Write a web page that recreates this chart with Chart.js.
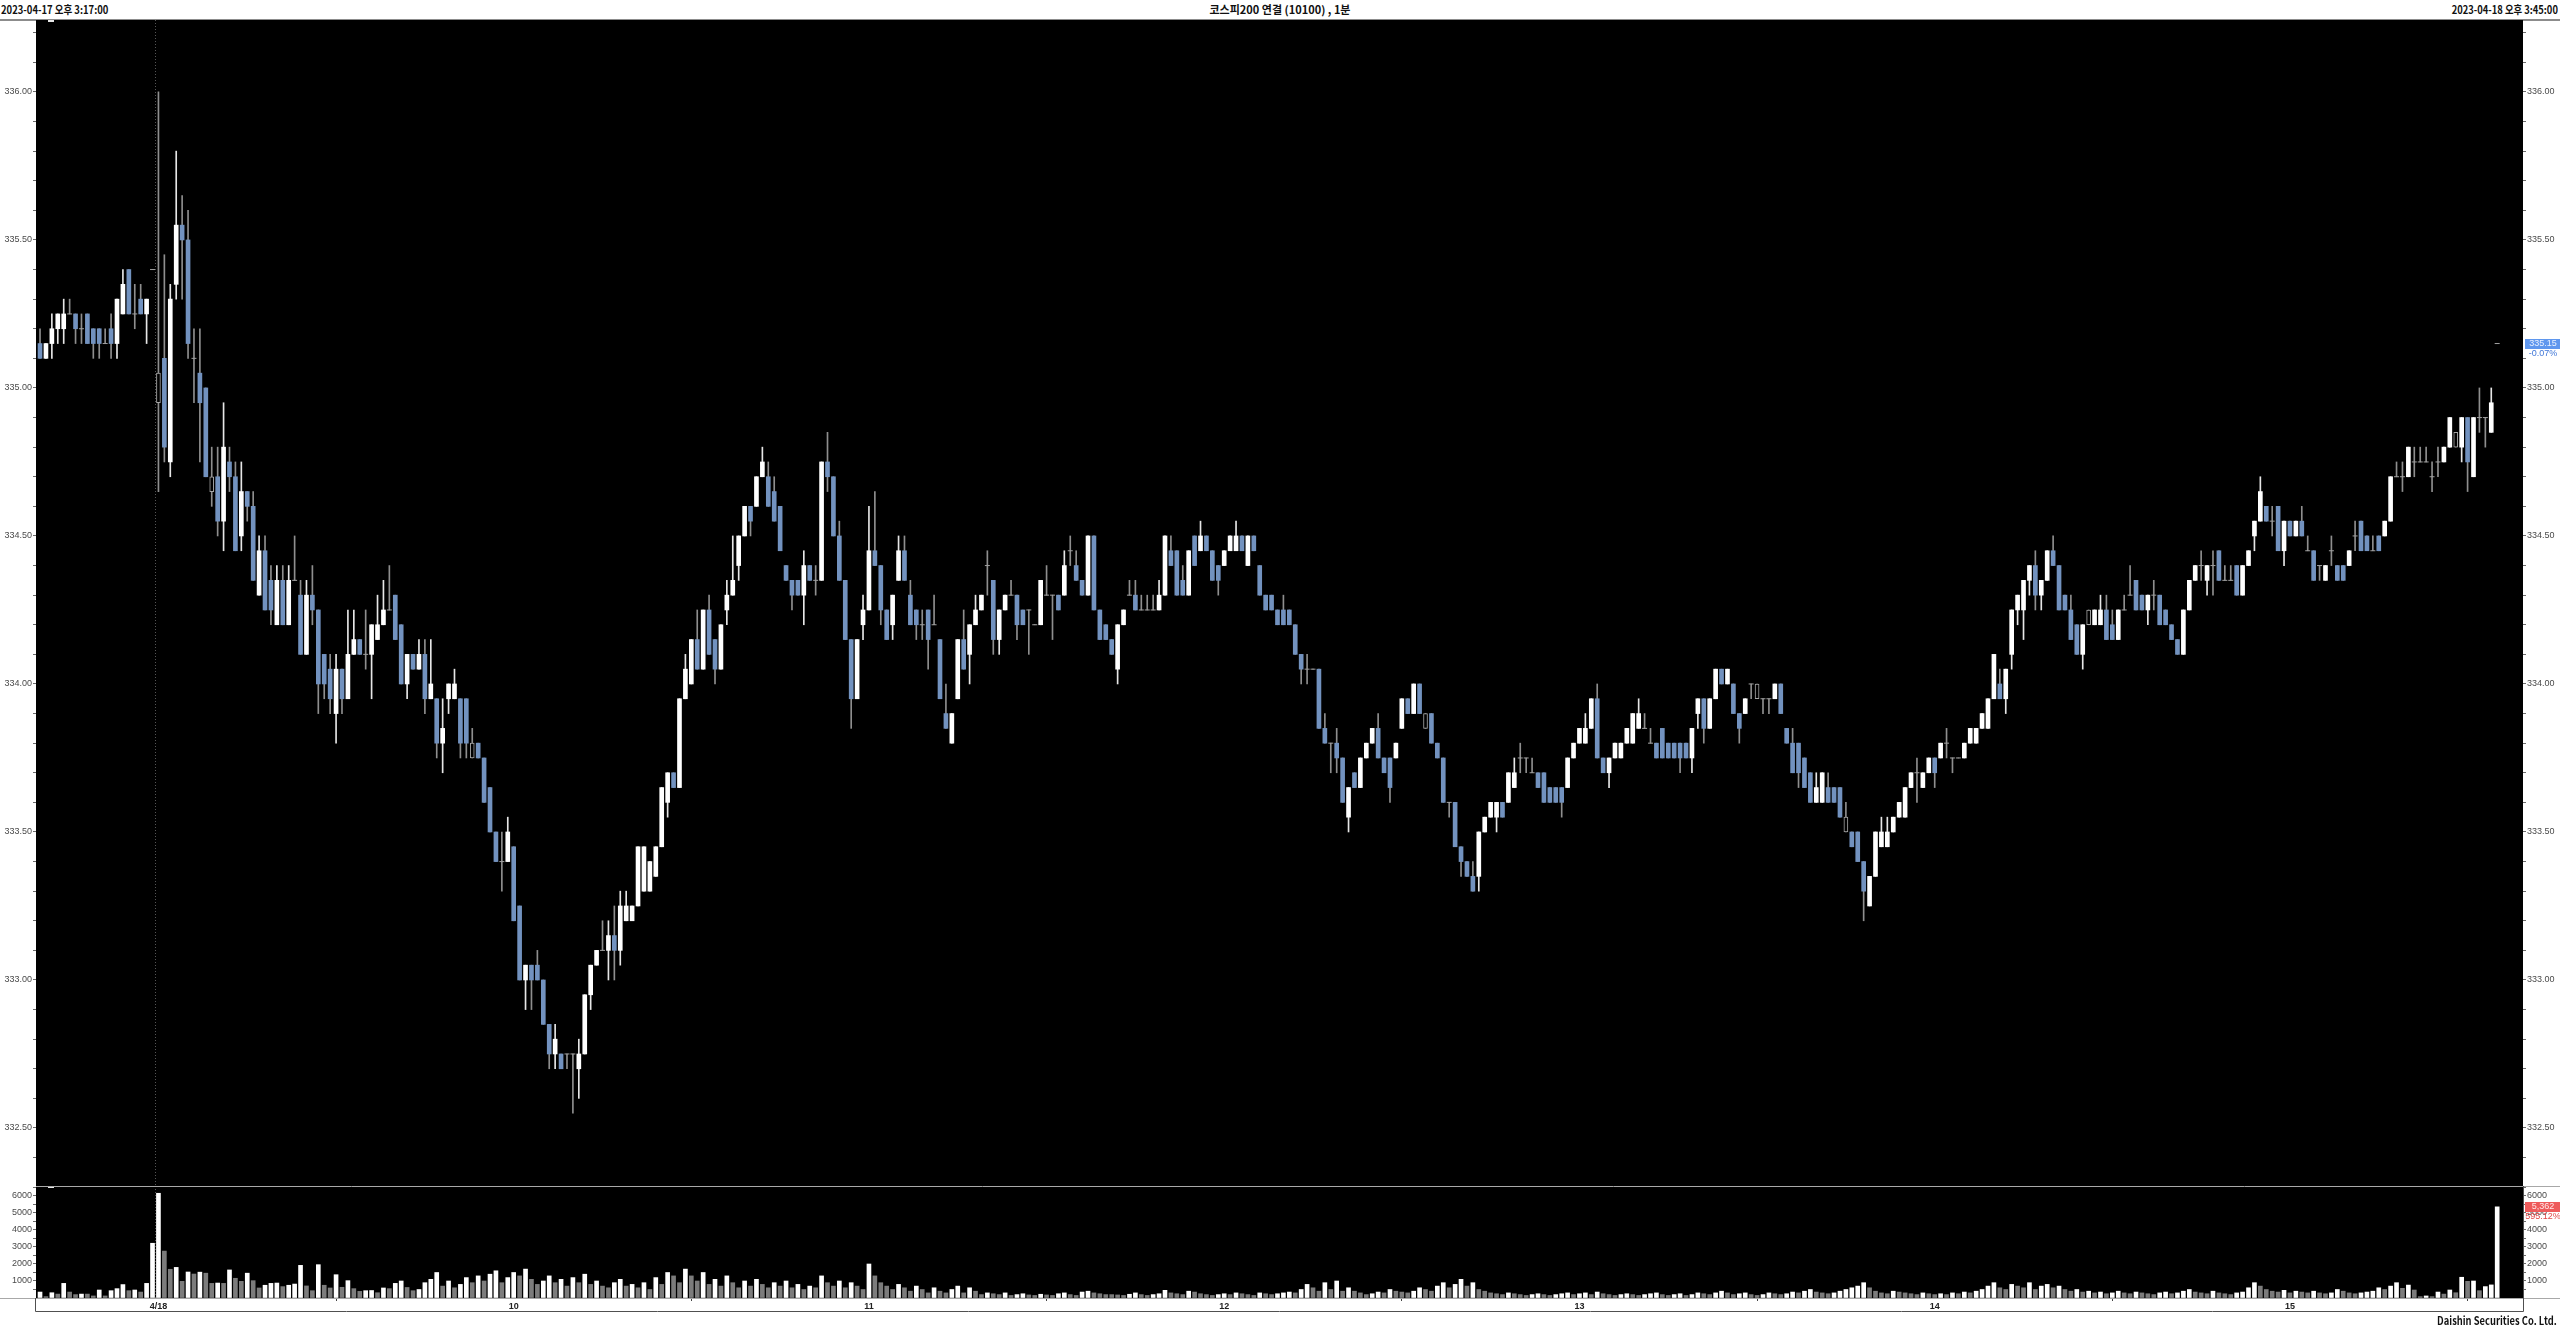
<!DOCTYPE html>
<html>
<head>
<meta charset="utf-8">
<script src="https://cdn.jsdelivr.net/npm/chart.js@4.4.0/dist/chart.umd.min.js"></script>
<style>
  html, body { margin: 0; padding: 0; background: #fff; }
  body { width: 2560px; height: 1328px; position: relative; overflow: hidden;
         font-family: "Noto Sans CJK KR", "DejaVu Sans", sans-serif; }
  .hdr { position: absolute; font-size: 11px; font-weight: bold; color: #111; line-height: 14px; white-space: nowrap; }
  .narrowL { transform: scaleX(0.86); transform-origin: left center; }
  .narrowR { transform: scaleX(0.85); transform-origin: right center; }
  .topline { position: absolute; left: 0; top: 19px; width: 2560px; height: 2px; background: #8c8c8c; }
  #priceCanvas { position: absolute; left: 0; top: 0; }
  #volCanvas { position: absolute; left: 0; top: 1186px; }
</style>
</head>
<body>
<div class="hdr narrowL" id="hLeft" style="left:1px; top:2px"></div>
<div class="hdr" id="hTitle" style="left:0; top:2px; width:2560px; text-align:center"></div>
<div class="hdr narrowR" id="hRight" style="right:2px; top:2px"></div>
<div class="topline"></div>
<canvas id="priceCanvas" width="2560" height="1186"></canvas>
<canvas id="volCanvas" width="2560" height="142"></canvas>
<div class="hdr narrowR" id="credit" style="right:3px; top:1313px"></div>
<script>
// 1-minute bars, KOSPI200 continuous futures: 4/17 tail (0-19) then 4/18 (20-415)
const opens = [
  335.15,335.10,335.15,335.20,335.20,335.25,335.25,335.20,335.25,335.20,
  335.20,335.15,335.20,335.15,335.25,335.40,335.25,335.30,335.25,335.40,
  334.95,335.10,334.75,335.35,335.55,335.50,335.10,335.05,335.00,334.65,
  334.70,334.55,334.75,334.70,334.50,334.65,334.60,334.30,334.45,334.35,
  334.20,334.35,334.20,334.35,334.30,334.10,334.30,334.25,334.10,334.05,
  333.90,334.05,333.95,334.10,334.15,334.10,334.10,334.15,334.20,334.25,
  334.30,334.20,334.00,334.10,334.05,334.10,333.95,333.95,333.80,333.95,
  333.95,333.95,333.95,333.75,333.80,333.75,333.65,333.50,333.40,333.40,
  333.45,333.25,333.00,333.05,333.05,333.00,332.85,332.75,332.75,332.75,
  332.75,332.70,332.75,332.95,333.05,333.10,333.10,333.15,333.10,333.20,
  333.20,333.25,333.30,333.30,333.35,333.45,333.60,333.70,333.65,333.95,
  334.00,334.15,334.05,334.25,334.15,334.05,334.25,334.30,334.40,334.50,
  334.60,334.60,334.70,334.70,334.65,334.60,334.40,334.35,334.35,334.30,
  334.40,334.35,334.35,334.75,334.70,334.50,334.35,334.15,333.95,334.20,
  334.25,334.45,334.40,334.25,334.20,334.35,334.45,334.30,334.25,334.20,
  334.25,334.20,334.15,333.90,333.80,333.95,334.15,334.10,334.20,334.25,
  334.40,334.35,334.15,334.25,334.30,334.30,334.25,334.25,334.20,334.20,
  334.30,334.30,334.30,334.30,334.45,334.40,334.35,334.30,334.50,334.25,
  334.20,334.15,334.05,334.20,334.30,334.30,334.25,334.25,334.25,334.25,
  334.30,334.45,334.45,334.35,334.30,334.50,334.45,334.50,334.45,334.40,
  334.40,334.45,334.45,334.50,334.40,334.50,334.40,334.30,334.30,334.25,
  334.25,334.25,334.20,334.10,334.05,334.05,334.05,333.85,333.80,333.80,
  333.75,333.55,333.70,333.65,333.75,333.80,333.85,333.75,333.75,333.75,
  333.85,333.95,333.90,334.00,333.85,333.90,333.80,333.75,333.60,333.60,
  333.45,333.40,333.35,333.35,333.50,333.55,333.55,333.60,333.60,333.65,
  333.75,333.75,333.70,333.70,333.70,333.65,333.65,333.65,333.65,333.75,
  333.80,333.80,333.85,333.95,333.75,333.70,333.75,333.75,333.80,333.80,
  333.85,333.85,333.80,333.80,333.85,333.80,333.80,333.80,333.80,333.75,
  333.90,333.95,333.85,333.95,334.05,334.00,334.00,333.90,333.90,334.00,
  333.95,333.95,333.95,333.95,334.00,333.85,333.80,333.80,333.75,333.70,
  333.60,333.60,333.65,333.65,333.65,333.50,333.50,333.50,333.40,333.25,
  333.35,333.45,333.45,333.50,333.55,333.55,333.65,333.70,333.65,333.70,
  333.75,333.75,333.80,333.75,333.75,333.75,333.80,333.80,333.85,333.85,
  333.95,334.00,333.95,334.10,334.25,334.25,334.35,334.40,334.30,334.35,
  334.45,334.40,334.30,334.25,334.20,334.10,334.20,334.20,334.20,334.25,
  334.20,334.15,334.25,334.30,334.35,334.30,334.25,334.30,334.30,334.25,
  334.20,334.15,334.10,334.25,334.35,334.40,334.35,334.40,334.45,334.35,
  334.35,334.40,334.30,334.40,334.50,334.55,334.60,334.55,334.60,334.45,
  334.55,334.50,334.55,334.45,334.45,334.40,334.35,334.45,334.40,334.40,
  334.40,334.50,334.55,334.50,334.45,334.50,334.50,334.55,334.70,334.70,
  334.70,334.75,334.75,334.75,334.70,334.75,334.75,334.80,334.80,334.80,
  334.90,334.70,334.90,334.90,334.85,335.15
];
const highs = [
  335.20,335.15,335.25,335.25,335.30,335.30,335.25,335.25,335.25,335.20,
  335.20,335.20,335.25,335.30,335.40,335.40,335.35,335.35,335.30,335.40,
  336.00,335.45,335.35,335.80,335.65,335.60,335.20,335.20,335.00,334.80,
  334.80,334.95,334.80,334.75,334.75,334.65,334.65,334.50,334.50,334.40,
  334.40,334.40,334.40,334.50,334.35,334.35,334.40,334.25,334.10,334.10,
  334.10,334.05,334.25,334.25,334.15,334.25,334.20,334.30,334.35,334.40,
  334.30,334.20,334.10,334.10,334.15,334.15,334.15,333.95,333.95,334.00,
  334.05,333.95,333.95,333.85,333.80,333.75,333.65,333.50,333.50,333.55,
  333.45,333.25,333.05,333.05,333.10,333.00,332.85,332.85,332.75,332.75,
  332.75,332.80,332.95,333.05,333.10,333.20,333.20,333.25,333.30,333.30,
  333.25,333.45,333.45,333.40,333.45,333.65,333.70,333.70,333.95,334.10,
  334.15,334.25,334.25,334.30,334.15,334.20,334.35,334.50,334.50,334.60,
  334.60,334.70,334.80,334.75,334.70,334.60,334.40,334.35,334.35,334.45,
  334.40,334.40,334.75,334.85,334.70,334.55,334.35,334.15,334.15,334.30,
  334.60,334.65,334.40,334.25,334.30,334.50,334.50,334.35,334.25,334.25,
  334.25,334.30,334.15,334.00,333.90,334.15,334.25,334.20,334.30,334.30,
  334.45,334.35,334.25,334.30,334.35,334.30,334.25,334.25,334.20,334.35,
  334.40,334.30,334.30,334.45,334.50,334.45,334.35,334.50,334.50,334.25,
  334.20,334.15,334.20,334.25,334.35,334.35,334.30,334.30,334.30,334.35,
  334.50,334.50,334.45,334.40,334.45,334.50,334.55,334.50,334.45,334.40,
  334.45,334.50,334.55,334.50,334.50,334.50,334.40,334.30,334.30,334.25,
  334.30,334.25,334.20,334.10,334.10,334.05,334.05,333.90,333.80,333.85,
  333.75,333.65,333.70,333.75,333.80,333.85,333.90,333.75,333.75,333.80,
  333.95,333.95,334.00,334.00,333.90,333.90,333.80,333.75,333.60,333.60,
  333.45,333.40,333.40,333.50,333.55,333.60,333.60,333.60,333.70,333.75,
  333.80,333.75,333.75,333.70,333.70,333.65,333.65,333.65,333.75,333.80,
  333.85,333.90,333.95,334.00,333.75,333.75,333.80,333.80,333.85,333.90,
  333.95,333.90,333.85,333.80,333.85,333.80,333.80,333.80,333.80,333.85,
  333.95,333.95,333.95,334.05,334.05,334.05,334.00,333.90,333.95,334.00,
  334.00,333.95,333.95,334.00,334.00,333.85,333.85,333.80,333.75,333.70,
  333.70,333.70,333.70,333.65,333.65,333.60,333.50,333.50,333.40,333.35,
  333.50,333.55,333.55,333.55,333.60,333.65,333.70,333.75,333.70,333.75,
  333.75,333.80,333.85,333.75,333.75,333.80,333.85,333.85,333.90,333.95,
  334.10,334.05,334.05,334.25,334.30,334.35,334.40,334.45,334.35,334.45,
  334.50,334.40,334.30,334.30,334.20,334.20,334.25,334.25,334.30,334.30,
  334.25,334.25,334.30,334.40,334.35,334.30,334.30,334.35,334.30,334.25,
  334.20,334.15,334.25,334.35,334.40,334.45,334.40,334.45,334.45,334.40,
  334.40,334.40,334.40,334.45,334.55,334.70,334.60,334.60,334.60,334.55,
  334.55,334.55,334.60,334.50,334.45,334.40,334.40,334.50,334.40,334.40,
  334.45,334.55,334.55,334.50,334.50,334.50,334.55,334.70,334.75,334.75,
  334.80,334.80,334.80,334.80,334.75,334.80,334.80,334.90,334.85,334.90,
  334.90,334.90,335.00,334.90,335.00,335.15
];
const lows = [
  335.10,335.10,335.10,335.15,335.15,335.25,335.15,335.15,335.15,335.10,
  335.10,335.15,335.10,335.10,335.25,335.25,335.20,335.25,335.15,335.40,
  334.65,334.75,334.70,335.30,335.30,335.10,334.95,334.75,334.70,334.60,
  334.50,334.45,334.65,334.45,334.45,334.55,334.35,334.30,334.25,334.20,
  334.20,334.20,334.20,334.35,334.10,334.10,334.20,333.90,333.95,333.90,
  333.80,333.90,333.95,334.10,334.10,334.05,333.95,334.15,334.20,334.25,
  334.15,334.00,333.95,334.05,334.05,333.90,333.95,333.75,333.70,333.90,
  333.95,333.75,333.75,333.75,333.75,333.60,333.50,333.40,333.30,333.40,
  333.20,333.00,332.90,332.90,333.00,332.85,332.70,332.70,332.70,332.70,
  332.55,332.60,332.75,332.90,333.05,333.10,333.00,333.00,333.05,333.20,
  333.20,333.25,333.30,333.30,333.35,333.45,333.55,333.65,333.65,333.95,
  334.00,334.05,334.05,334.10,334.00,334.05,334.20,334.30,334.35,334.50,
  334.50,334.60,334.70,334.60,334.55,334.45,334.35,334.25,334.30,334.20,
  334.35,334.30,334.35,334.65,334.50,334.35,334.15,333.85,333.95,334.15,
  334.25,334.40,334.20,334.15,334.15,334.35,334.35,334.20,334.15,334.15,
  334.05,334.20,333.95,333.85,333.80,333.95,334.05,334.00,334.20,334.25,
  334.30,334.10,334.10,334.25,334.30,334.15,334.20,334.10,334.20,334.20,
  334.30,334.15,334.25,334.30,334.40,334.35,334.30,334.30,334.25,334.15,
  334.15,334.10,334.00,334.20,334.30,334.25,334.25,334.25,334.25,334.25,
  334.30,334.40,334.30,334.30,334.30,334.40,334.45,334.45,334.35,334.30,
  334.40,334.45,334.45,334.45,334.40,334.45,334.30,334.25,334.25,334.20,
  334.20,334.20,334.10,334.00,334.00,334.05,333.85,333.80,333.70,333.70,
  333.60,333.50,333.65,333.65,333.75,333.80,333.75,333.70,333.60,333.75,
  333.85,333.90,333.90,333.90,333.85,333.80,333.75,333.60,333.55,333.45,
  333.35,333.35,333.30,333.30,333.50,333.55,333.50,333.55,333.60,333.65,
  333.70,333.70,333.70,333.65,333.60,333.60,333.60,333.55,333.65,333.75,
  333.80,333.80,333.85,333.75,333.70,333.65,333.75,333.75,333.80,333.80,
  333.85,333.85,333.80,333.75,333.75,333.75,333.75,333.70,333.75,333.70,
  333.85,333.80,333.85,333.95,334.00,334.00,333.90,333.80,333.90,333.95,
  333.95,333.90,333.90,333.95,333.90,333.80,333.70,333.65,333.65,333.60,
  333.60,333.60,333.60,333.60,333.55,333.50,333.45,333.40,333.20,333.25,
  333.35,333.45,333.45,333.50,333.55,333.55,333.65,333.60,333.65,333.70,
  333.65,333.75,333.75,333.70,333.75,333.75,333.80,333.80,333.85,333.85,
  333.95,333.95,333.90,334.05,334.20,334.15,334.30,334.25,334.25,334.35,
  334.40,334.25,334.25,334.15,334.10,334.05,334.20,334.20,334.20,334.15,
  334.15,334.15,334.25,334.30,334.25,334.25,334.20,334.25,334.20,334.20,
  334.15,334.10,334.10,334.25,334.35,334.35,334.30,334.30,334.35,334.35,
  334.35,334.30,334.30,334.40,334.45,334.55,334.55,334.50,334.45,334.40,
  334.50,334.50,334.50,334.45,334.35,334.35,334.35,334.40,334.35,334.35,
  334.40,334.45,334.45,334.45,334.45,334.45,334.50,334.55,334.70,334.65,
  334.70,334.70,334.75,334.75,334.65,334.70,334.75,334.80,334.80,334.75,
  334.65,334.70,334.85,334.80,334.85,335.15
];
const closes = [
  335.10,335.15,335.20,335.25,335.25,335.25,335.20,335.20,335.15,335.15,
  335.15,335.15,335.15,335.30,335.35,335.25,335.25,335.25,335.30,335.40,
  335.05,334.80,335.30,335.55,335.50,335.15,335.10,334.95,334.70,334.70,
  334.55,334.80,334.70,334.45,334.65,334.60,334.35,334.45,334.25,334.25,
  334.35,334.20,334.35,334.35,334.10,334.30,334.25,334.00,334.00,333.95,
  334.05,333.95,334.10,334.15,334.10,334.10,334.20,334.20,334.25,334.25,
  334.15,334.00,334.10,334.05,334.10,333.95,334.00,333.80,333.85,334.00,
  334.00,333.80,333.80,333.80,333.75,333.60,333.50,333.40,333.40,333.50,
  333.20,333.00,333.05,333.00,333.00,332.85,332.75,332.80,332.70,332.75,
  332.75,332.75,332.95,333.05,333.10,333.10,333.15,333.10,333.25,333.25,
  333.25,333.45,333.45,333.40,333.45,333.65,333.70,333.65,333.95,334.05,
  334.15,334.05,334.25,334.10,334.05,334.20,334.30,334.35,334.50,334.60,
  334.55,334.70,334.75,334.60,334.55,334.45,334.35,334.30,334.30,334.40,
  334.35,334.35,334.75,334.70,334.50,334.35,334.15,333.95,334.15,334.25,
  334.45,334.40,334.25,334.15,334.30,334.45,334.35,334.20,334.20,334.20,
  334.15,334.20,333.95,333.85,333.90,334.15,334.05,334.20,334.25,334.30,
  334.40,334.15,334.25,334.30,334.30,334.20,334.20,334.25,334.20,334.35,
  334.30,334.30,334.25,334.40,334.45,334.35,334.30,334.50,334.25,334.15,
  334.15,334.10,334.20,334.25,334.30,334.25,334.25,334.25,334.25,334.30,
  334.50,334.40,334.30,334.30,334.45,334.40,334.50,334.45,334.35,334.35,
  334.45,334.50,334.50,334.45,334.50,334.45,334.30,334.25,334.25,334.20,
  334.20,334.20,334.10,334.05,334.05,334.05,333.85,333.80,333.80,333.75,
  333.60,333.65,333.65,333.75,333.80,333.85,333.75,333.70,333.65,333.80,
  333.95,333.90,334.00,333.90,333.90,333.80,333.75,333.60,333.60,333.45,
  333.40,333.35,333.30,333.50,333.55,333.60,333.60,333.55,333.70,333.70,
  333.75,333.75,333.70,333.65,333.60,333.60,333.60,333.60,333.75,333.80,
  333.85,333.85,333.95,333.75,333.70,333.75,333.80,333.80,333.85,333.90,
  333.90,333.85,333.80,333.75,333.75,333.75,333.75,333.75,333.75,333.85,
  333.95,333.85,333.95,334.05,334.00,334.05,333.90,333.85,333.95,334.00,
  334.00,333.95,333.95,334.00,333.90,333.80,333.70,333.70,333.65,333.60,
  333.65,333.70,333.60,333.60,333.55,333.55,333.45,333.40,333.30,333.35,
  333.50,333.50,333.50,333.55,333.60,333.65,333.70,333.70,333.70,333.75,
  333.70,333.80,333.80,333.75,333.75,333.80,333.85,333.85,333.90,333.95,
  334.10,333.95,334.05,334.25,334.30,334.35,334.40,334.30,334.35,334.45,
  334.40,334.25,334.25,334.15,334.10,334.20,334.25,334.25,334.25,334.15,
  334.15,334.25,334.25,334.30,334.25,334.25,334.30,334.30,334.20,334.20,
  334.15,334.10,334.25,334.35,334.40,334.40,334.40,334.40,334.35,334.35,
  334.35,334.30,334.40,334.45,334.55,334.65,334.55,334.55,334.45,334.55,
  334.50,334.55,334.50,334.45,334.35,334.40,334.40,334.45,334.35,334.35,
  334.45,334.50,334.45,334.45,334.45,334.45,334.55,334.70,334.70,334.70,
  334.80,334.75,334.75,334.75,334.70,334.75,334.80,334.90,334.85,334.90,
  334.75,334.90,334.90,334.90,334.95,335.15
];
const volumes = [
  350,80,310,230,860,350,200,230,230,120,
  470,120,430,550,790,430,470,350,860,3220,
  6160,2760,1690,1800,980,1530,1410,1520,1460,860,
  880,860,1650,1160,980,1460,1020,590,750,860,
  880,670,750,820,1920,710,430,1960,750,590,
  1370,630,1020,550,390,430,440,310,590,550,
  860,1000,620,430,500,900,1100,1500,700,1000,
  600,800,1200,900,1300,1000,1400,1600,900,1200,
  1500,1300,1700,1100,800,1000,1300,900,1100,700,
  1200,900,1400,800,1000,700,600,900,1100,700,
  800,600,900,500,1200,800,1500,1300,900,1700,
  1300,1000,1500,800,1100,700,1300,900,600,1000,
  700,1100,800,600,900,700,1000,600,800,500,
  700,600,1300,900,700,1000,600,900,700,500,
  2000,1300,900,700,500,800,600,400,700,500,
  300,600,400,300,500,700,300,600,400,200,
  300,250,200,300,150,200,250,180,150,220,
  180,150,250,300,200,150,350,400,300,250,
  200,200,180,150,220,300,200,150,200,250,
  450,300,250,200,400,350,250,200,150,200,
  250,200,300,250,200,150,300,250,200,250,
  300,350,300,500,800,600,400,900,500,1000,
  400,600,400,300,200,250,350,300,500,400,
  350,300,400,600,500,400,700,900,600,800,
  1100,700,900,500,400,300,250,200,300,250,
  200,150,200,250,200,150,200,250,300,200,
  250,300,200,350,250,200,150,200,250,200,
  150,200,250,300,200,150,200,250,150,200,
  300,250,200,300,400,300,200,250,300,200,
  150,200,300,250,200,250,350,300,400,500,
  350,300,250,300,400,500,600,700,900,600,
  400,300,250,400,350,300,250,200,300,250,
  200,250,200,300,250,350,300,400,500,700,
  900,600,500,800,700,600,900,500,700,800,
  600,700,500,400,500,350,400,300,350,250,
  300,400,300,250,350,300,250,200,300,350,
  250,300,400,500,350,300,250,400,300,250,
  200,300,350,600,900,700,500,400,350,450,
  300,400,350,300,400,300,250,300,500,400,
  300,250,300,350,400,600,500,700,900,570,
  760,470,80,120,80,350,230,470,310,1220,
  980,1000,430,670,770,5362
];
// bars the source draws as grey outlines
const flatBars = [20, 29, 73, 234, 290, 305, 346, 408];
const xTickIdx = [20, 80, 140, 200, 260, 320, 380];
const xTickLabels = ["4/18", "10", "11", "12", "13", "14", "15"];

const headerLeft = "2023-04-17 오후 3:17:00";
const headerTitle = "코스피200 연결  (10100) , 1분";
const headerRight = "2023-04-18 오후 3:45:00";
const creditText = "Daishin Securities Co. Ltd.";
const volChangeText = "595.12%";

document.getElementById("hLeft").textContent = headerLeft;
document.getElementById("hTitle").textContent = headerTitle;
document.getElementById("hRight").textContent = headerRight;
document.getElementById("credit").textContent = creditText;

const UP = "#ffffff";
const DOWN = "#7292bf";
const GREY = "#8e8e8e";
const AXIS_TEXT = "#4a4a4a";
const X_MIN = -0.68;
const X_MAX = 419.36;
const P_MIN = 332.304;
const P_MAX = 336.243;
const V_MAX = 6588;
const dayBreak = xTickIdx[0] - 0.55;
const idx = closes.map((_, i) => i);

function kind(i) {
  if (flatBars.includes(i)) return "flat";
  if (closes[i] > opens[i]) return "up";
  if (closes[i] < opens[i]) return "down";
  return "doji";
}

function sideAxis(position, min, max, step, labelEvery, digits) {
  return {
    type: "linear",
    position,
    min,
    max,
    afterBuildTicks(scale) {
      const ticks = [];
      for (let k = Math.ceil(min / step - 1e-9); k * step <= max + 1e-9; k++) {
        ticks.push({ value: Number((k * step).toFixed(6)) });
      }
      scale.ticks = ticks;
    },
    afterFit(scale) {
      scale.width = position === "left" ? 36 : 37;
      scale.paddingTop = 0;
      scale.paddingBottom = 0;
    },
    border: { display: false },
    grid: { drawOnChartArea: false, drawTicks: true, tickLength: 3, color: "#6a6a6a" },
    ticks: {
      autoSkip: false,
      padding: 1,
      color: AXIS_TEXT,
      font: { family: "Liberation Sans", size: 9 },
      callback(v) {
        const r = v / labelEvery;
        if (v <= 0 || Math.abs(r - Math.round(r)) > 1e-6) return "";
        return v.toFixed(digits);
      },
    },
  };
}

const panelBg = {
  id: "panelBg",
  beforeDraw(chart) {
    const { ctx, chartArea: a } = chart;
    ctx.save();
    ctx.fillStyle = "#000";
    ctx.fillRect(a.left, a.top, a.right - a.left, a.bottom - a.top);
    // small scroll marker near the top-left corner
    ctx.fillStyle = "#e8e8e8";
    ctx.fillRect(a.left + 12, a.top, 6, 2);
    ctx.restore();
  },
};

const dayLine = {
  id: "dayLine",
  beforeDatasetsDraw(chart) {
    const { ctx, chartArea: a, scales } = chart;
    const x = Math.round(scales.x.getPixelForValue(dayBreak)) + 0.5;
    ctx.save();
    ctx.strokeStyle = "#555";
    ctx.setLineDash([1, 2]);
    ctx.beginPath();
    ctx.moveTo(x, a.top);
    ctx.lineTo(x, a.bottom);
    ctx.stroke();
    ctx.restore();
  },
};

const priceTag = {
  id: "priceTag",
  afterDraw(chart) {
    const { ctx, chartArea: a, scales } = chart;
    const last = closes[closes.length - 1];
    const prevDay = closes[xTickIdx[0] - 1];
    const pct = ((last / prevDay) - 1) * 100;
    const y = Math.round(scales.y.getPixelForValue(last));
    ctx.save();
    ctx.fillStyle = "#5f97ee";
    ctx.fillRect(a.right + 2, y - 5, chart.width - a.right - 2, 10);
    ctx.font = "9px Liberation Sans";
    ctx.textAlign = "center";
    ctx.textBaseline = "middle";
    ctx.fillStyle = "#e9f1ff";
    ctx.fillText(last.toFixed(2), a.right + 20, y);
    ctx.fillStyle = "#3f76d8";
    ctx.fillText(pct.toFixed(2) + "%", a.right + 20, y + 10);
    ctx.restore();
  },
};

const volTag = {
  id: "volTag",
  afterDraw(chart) {
    const { ctx, chartArea: a, scales } = chart;
    const last = volumes[volumes.length - 1];
    const y = Math.round(scales.y.getPixelForValue(last));
    ctx.save();
    ctx.fillStyle = "#ee5b5b";
    ctx.fillRect(a.right + 2, y - 5, chart.width - a.right - 2, 10);
    ctx.font = "9px Liberation Sans";
    ctx.textAlign = "center";
    ctx.textBaseline = "middle";
    ctx.fillStyle = "#ffe9e9";
    ctx.fillText(last.toLocaleString("en-US"), a.right + 20, y);
    ctx.fillStyle = "#e04848";
    ctx.fillText(volChangeText, a.right + 20, y + 10);
    // panel frame
    ctx.lineWidth = 1;
    ctx.strokeStyle = "#a8a8a8";
    ctx.beginPath();
    ctx.moveTo(a.left, a.top + 0.5);
    ctx.lineTo(chart.width, a.top + 0.5);
    ctx.moveTo(0, a.bottom + 0.5);
    ctx.lineTo(chart.width, a.bottom + 0.5);
    ctx.stroke();
    ctx.strokeStyle = "#505050";
    ctx.beginPath();
    ctx.moveTo(a.left - 0.5, a.bottom);
    ctx.lineTo(a.left - 0.5, a.bottom + 13.5);
    ctx.lineTo(a.right + 0.5, a.bottom + 13.5);
    ctx.lineTo(a.right + 0.5, a.top);
    ctx.stroke();
    ctx.restore();
  },
};

const common = {
  responsive: false,
  animation: false,
  devicePixelRatio: 1,
  plugins: { legend: { display: false }, tooltip: { enabled: false } },
};

new Chart(document.getElementById("priceCanvas"), {
  type: "bar",
  data: {
    datasets: [
      {
        type: "scatter",
        order: 1,
        data: idx.filter((i) => kind(i) === "doji").map((i) => ({ x: i, y: closes[i] })),
        pointStyle: "line",
        pointRadius: 2.5,
        borderWidth: 1,
        borderColor: "#a0a0a0",
        showLine: false,
      },
      {
        order: 2,
        grouped: false,
        barThickness: 4,
        data: idx.map((i) => ({ x: i, y: kind(i) === "doji" ? null : [opens[i], closes[i]] })),
        backgroundColor: (c) => {
          const k = kind(c.dataIndex);
          return k === "up" ? UP : k === "down" ? DOWN : "#000";
        },
        borderColor: "#a6a6a6",
        borderWidth: (c) => (kind(c.dataIndex) === "flat" ? 1 : 0),
        borderSkipped: false,
      },
      {
        order: 3,
        grouped: false,
        barThickness: 1,
        data: idx.map((i) => ({ x: i, y: [lows[i], highs[i]] })),
        backgroundColor: (c) => (kind(c.dataIndex) === "up" ? "#e6e6e6" : GREY),
      },
    ],
  },
  options: {
    ...common,
    layout: { autoPadding: false, padding: { top: 20, bottom: 0, left: 0, right: 0 } },
    scales: {
      x: { type: "linear", display: false, offset: false, min: X_MIN, max: X_MAX },
      y: sideAxis("left", P_MIN, P_MAX, 0.1, 0.5, 2),
      yR: sideAxis("right", P_MIN, P_MAX, 0.1, 0.5, 2),
    },
  },
  plugins: [panelBg, dayLine, priceTag],
});

new Chart(document.getElementById("volCanvas"), {
  type: "bar",
  data: {
    datasets: [
      {
        grouped: false,
        barThickness: 4,
        data: idx.map((i) => ({ x: i, y: volumes[i] })),
        backgroundColor: (c) => {
          const i = c.dataIndex;
          return i === 0 || volumes[i] > volumes[i - 1] ? "#ffffff" : "#7c7c7c";
        },
      },
    ],
  },
  options: {
    ...common,
    layout: { autoPadding: false, padding: { top: 0, bottom: 17, left: 0, right: 0 } },
    scales: {
      x: {
        type: "linear",
        offset: false,
        min: X_MIN,
        max: X_MAX,
        afterFit(scale) {
          scale.height = 13;
          scale.paddingLeft = 0;
          scale.paddingRight = 0;
        },
        afterBuildTicks(scale) { scale.ticks = xTickIdx.map((v) => ({ value: v })); },
        border: { display: false },
        grid: { drawOnChartArea: false, drawTicks: true, tickLength: 3, color: "#444" },
        ticks: {
          autoSkip: false,
          maxRotation: 0,
          padding: 0,
          color: "#222",
          font: { family: "Liberation Sans", size: 9, weight: "bold" },
          callback: (v, i) => xTickLabels[i],
        },
      },
      y: sideAxis("left", 0, V_MAX, 500, 1000, 0),
      yR: sideAxis("right", 0, V_MAX, 500, 1000, 0),
    },
  },
  plugins: [panelBg, dayLine, volTag],
});
</script>
</body>
</html>
